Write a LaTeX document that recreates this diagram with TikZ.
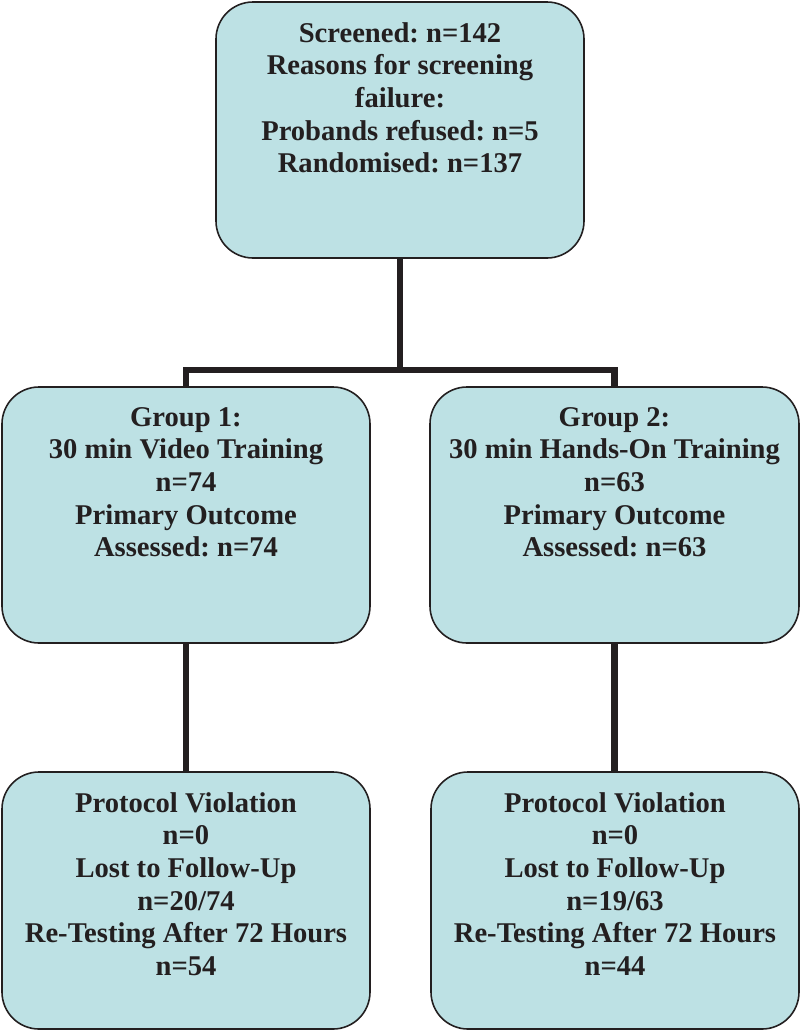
\documentclass[tikz,border=0pt]{standalone}
\usepackage{fontspec}
\setmainfont{Liberation Serif}
\frenchspacing
\definecolor{boxfill}{HTML}{BDE1E4}
\definecolor{ink}{HTML}{231F20}
\tikzset{
  flowbox/.style={draw=ink, line width=1.6pt, fill=boxfill, rounded corners=37pt,
    minimum width=368pt, minimum height=256pt, inner sep=0pt},
  boxtext/.style={anchor=north, inner sep=0pt, align=center, text=ink,
    font=\fontsize{28.6}{32.6}\selectfont\bfseries, yshift=-21pt},
  link/.style={draw=ink, line width=6.5pt, line join=miter}
}
\begin{document}
\begin{tikzpicture}[x=1pt,y=-1pt]
\useasboundingbox (0,0) rectangle (800,1031);
\node[flowbox] (top) at (400,130) {};
\node[flowbox] (g1) at (186,515) {};
\node[flowbox, minimum width=369pt] (g2) at (614.5,515) {};
\node[flowbox, minimum height=257pt] (b1) at (186,900.5) {};
\node[flowbox, minimum height=257pt] (b2) at (615,900.5) {};

\node[boxtext] (ttop) at (top.north) {Screened: n=142\\Reasons for screening\\failure:\\Probands refused: n=5\\Randomised: n=137};
\node[boxtext] (tg1) at (g1.north) {Group 1:\\30 min Video Training\\n=74\\Primary Outcome\\Assessed: n=74};
\node[boxtext] (tg2) at (g2.north) {Group 2:\\30 min Hands-On Training\\n=63\\Primary Outcome\\Assessed: n=63};
\node[boxtext] (tb1) at (b1.north) {Protocol Violation\\n=0\\Lost to Follow-Up\\n=20/74\\Re-Testing After 72 Hours\\n=54};
\node[boxtext] (tb2) at (b2.north) {Protocol Violation\\n=0\\Lost to Follow-Up\\n=19/63\\Re-Testing After 72 Hours\\n=44};

\coordinate (split) at (400,370);
\draw[link] (top.south) -- (split);
\draw[link] (g1.north) |- (split) -| (g2.north);
\draw[link] (g1.south) -- (b1.north);
\draw[link] (g2.south) -- (g2.south |- b2.north);
\end{tikzpicture}
\end{document}
